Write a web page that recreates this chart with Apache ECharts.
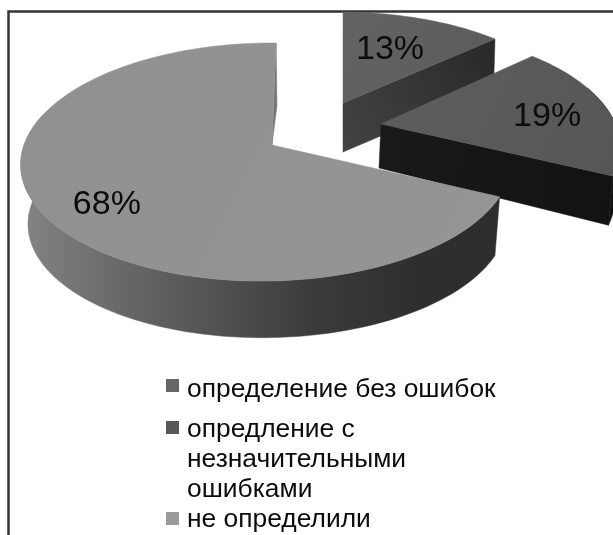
<!DOCTYPE html>
<html><head><meta charset="utf-8">
<style>html,body{margin:0;padding:0;background:#fff}#c{width:613px;height:535px;filter:blur(.5px)}</style>
<script src="https://cdn.jsdelivr.net/npm/echarts@6/dist/echarts.min.js"></script>
</head><body><div id="c"></div>
<script>
const categories = ['определение без ошибок', 'опредление с\nнезначительными\nошибками', 'не определили'];
const values = [13, 19, 68];

const total = values.reduce((a, b) => a + b, 0);
const FONT = '"Liberation Sans", Arial, sans-serif';
const linear = (x, y, x2, y2, stops) => ({type: 'linear', x, y, x2, y2, global: true,
  colorStops: stops.map(s => ({offset: s[0], color: s[1]}))});

// perspective layout of each exploded wedge
const layout = [
  {ax: 343, ay: 103, bx: 343, by: 152, rx: 232, k: 104, p: .143, q: .02, skew: 0, sx: .99, sy: 1,
   labelF: .55, labelDy: -5, top: linear(340, 10, 490, 100, [[0, '#646464'], [1, '#5a5a5a']]),
   wall: linear(343, 150, 495, 60, [[0, '#434343'], [1, '#2a2a2a']])},
  {ax: 381, ay: 124, bx: 379, by: 168, rx: 239, k: 114, p: .2, q: .02, skew: 0, sx: .99, sy: 1.1,
   labelF: .73, labelDy: 5, top: linear(380, 60, 613, 170, [[0, '#5e5e5e'], [1, '#565656']]),
   wall: linear(380, 170, 610, 220, [[0, '#191919'], [1, '#121212']])},
  {ax: 272, ay: 145, bx: 273, by: 205, rx: 243, k: 116.6, p: .143, q: .02, skew: -.04, sx: .975, sy: .975,
   labelF: .74, labelDy: 10, top: linear(20, 40, 500, 280, [[0, '#909090'], [1, '#959595']]),
   wall: linear(20, 0, 420, 0, [[0, '#848484'], [.3, '#636363'], [.75, '#3a3a3a'], [1, '#2e2e2e']])}
];
const legendColors = ['#666666', '#585858', '#9a9a9a'];
const legendBoxes = [
  {top: 375, h: 30, icon: 'path://M0 0L.01 0L0 .01ZM0 4H13V17H0ZM0 30L.01 30L0 29.99Z'},
  {top: 415, h: 90, icon: 'path://M0 0L.01 0L0 .01ZM0 6H13V19H0ZM0 90L.01 90L0 89.99Z'},
  {top: 505, h: 30, icon: 'path://M0 0L.01 0L0 .01ZM0 7H13V20H0ZM0 30L.01 30L0 29.99Z'}
];

function project(s, deg, f, bottom) {
  const t = deg * Math.PI / 180, sn = Math.sin(t), cs = Math.cos(t);
  const D = 1 + s.p * f * cs + s.q * f * sn;
  const dx = s.rx * f * sn / D, dy = -s.k * f * cs / D;
  const ox = dx + s.skew * dy;
  return bottom ? [s.bx + s.sx * ox, s.by + s.sy * dy] : [s.ax + ox, s.ay + dy];
}
function arcPts(s, a, b, bottom) {
  const pts = [];
  for (let d = a; d < b; d += 2) pts.push(project(s, d, 1, bottom));
  pts.push(project(s, b, 1, bottom));
  return pts;
}
const poly = (points, fill) => ({type: 'polygon', shape: {points}, style: {fill, stroke: fill, lineWidth: .5}});

function makeRender(i) {
  return function () {
    const s = layout[i];
    const start = values.slice(0, i).reduce((a, b) => a + b, 0) / total * 360;
    const end = start + values[i] / total * 360;
    const apex = [s.ax, s.ay], apexB = [s.bx, s.by];
    const kids = [];
    if (i === 2) {
      kids.push(poly([project(s, end, 1), project(s, end, 1, true), apex], '#757575'));
    }
    // cut face toward the viewer
    if (i < 2) {
      kids.push(poly([apex, project(s, end, 1), project(s, end, 1, true), apexB], s.wall));
    }
    // outer rim
    const rimB = Math.min(end, 285);
    if (i > 0) {
      const a0 = Math.max(start, 70);
      kids.push(poly(arcPts(s, a0, rimB).concat(arcPts(s, a0, rimB, true).reverse()), s.wall));
    }
    // top face
    kids.push(poly([apex].concat(arcPts(s, start, end)), s.top));
    // value label
    const mid = (start + end) / 2, lp = project(s, mid, s.labelF);
    kids.push({type: 'text', style: {text: values[i] + '%', x: lp[0], y: lp[1] + s.labelDy, align: 'center',
      verticalAlign: 'middle', fill: '#0c0c0c', font: '34px ' + FONT}});
    return {type: 'group', children: kids};
  };
}

const chart = echarts.init(document.getElementById('c'), null, {renderer: 'canvas'});
chart.setOption({
  animation: false,
  backgroundColor: '#fff',
  graphic: [{type: 'rect', silent: true, z: 0, shape: {x: 8.5, y: 11.5, width: 800, height: 800},
    style: {fill: 'none', stroke: '#333', lineWidth: 2.5}}],
  legend: categories.map((name, i) => ({
    data: [{name, icon: legendBoxes[i].icon}],
    left: 166, top: legendBoxes[i].top, padding: 0, orient: 'vertical', selectedMode: false,
    itemWidth: 13, itemHeight: legendBoxes[i].h, itemGap: 0,
    textStyle: {fontFamily: FONT, fontSize: 26.4, color: '#0c0c0c', lineHeight: 30, padding: [0, 0, 0, 3]}
  })),
  series: categories.map((name, i) => ({
    type: 'custom', name, coordinateSystem: 'none', silent: true,
    itemStyle: {color: legendColors[i]},
    data: [values[i]],
    renderItem: makeRender(i)
  }))
});
</script></body></html>
